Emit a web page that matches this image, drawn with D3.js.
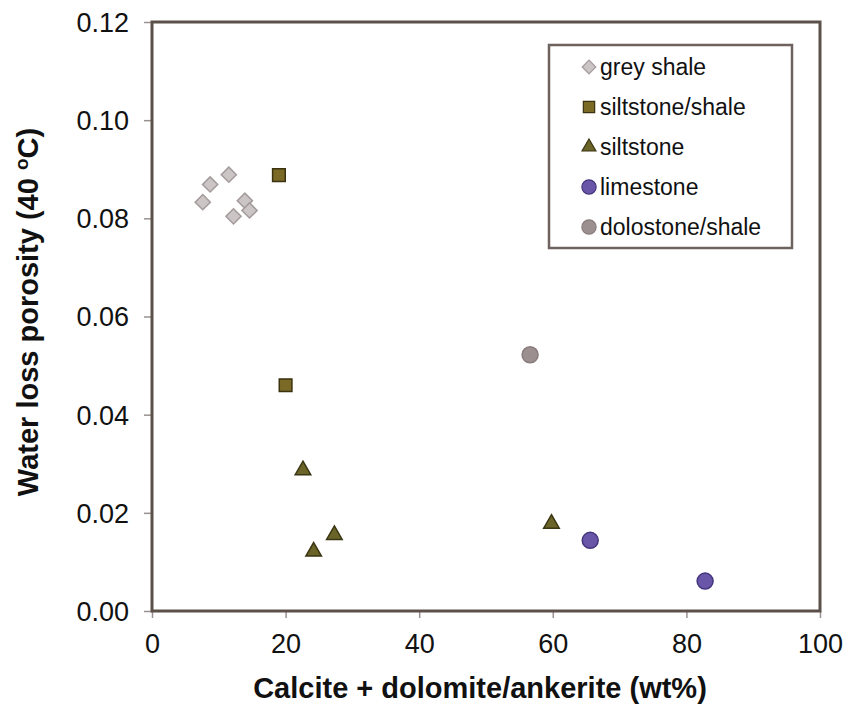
<!DOCTYPE html>
<html>
<head>
<meta charset="utf-8">
<script src="https://cdn.jsdelivr.net/npm/d3@7"></script>
<style>
  body { margin: 0; background: #fff; }
  text { font-family: "Liberation Sans", Arial, sans-serif; fill: #111; }
</style>
</head>
<body>
<script>
// data
const greyShaleX = [7.6, 8.7, 11.5, 12.2, 13.9, 14.6];
const greyShaleY = [0.0833, 0.0869, 0.0889, 0.0804, 0.0836, 0.0816];
const siltShaleX = [19.0, 20.0];
const siltShaleY = [0.0888, 0.0460];
const siltstoneX = [22.6, 24.2, 27.3, 59.8];
const siltstoneY = [0.0287, 0.0121, 0.0155, 0.0178];
const limestoneX = [65.6, 82.8];
const limestoneY = [0.0144, 0.0061];
const dolostoneX = [56.6];
const dolostoneY = [0.0522];

const xTicks = [0, 20, 40, 60, 80, 100];
const yTicks = [0, 0.02, 0.04, 0.06, 0.08, 0.10, 0.12];

const width = 848;
const height = 723;
const margin = { top: 22, right: 28, bottom: 112, left: 152 };

// rotated square reads as the diamond in the original
const series = [
  { name: 'grey shale', xs: greyShaleX, ys: greyShaleY, shape: d3.symbolSquare, size: 115, rot: 45, fill: '#ccc5c5', stroke: '#a39a9c' },
  { name: 'siltstone/shale', xs: siltShaleX, ys: siltShaleY, shape: d3.symbolSquare, size: 160, rot: 0, fill: '#7a6a26', stroke: '#3b3210' },
  { name: 'siltstone', xs: siltstoneX, ys: siltstoneY, shape: d3.symbolTriangle, size: 105, rot: 0, fill: '#6b6428', stroke: '#3a3512' },
  { name: 'limestone', xs: limestoneX, ys: limestoneY, shape: d3.symbolCircle, size: 200, rot: 0, fill: '#6a56a8', stroke: '#44367e' },
  { name: 'dolostone/shale', xs: dolostoneX, ys: dolostoneY, shape: d3.symbolCircle, size: 200, rot: 0, fill: '#9c8f8f', stroke: '#8a7c7c' }
];

const svg = d3.select('body')
  .append('svg')
  .attr('width', width)
  .attr('height', height);

const x = d3.scaleLinear()
  .domain([0, 100])
  .range([margin.left, width - margin.right]);

const y = d3.scaleLinear()
  .domain([0, 0.12])
  .range([height - margin.bottom, margin.top]);

// axes
const xAxis = svg.append('g')
  .attr('transform', `translate(0,${height - margin.bottom})`)
  .call(d3.axisBottom(x).tickValues(xTicks).tickSize(7).tickPadding(12).tickFormat(d3.format('d')));

const yAxis = svg.append('g')
  .attr('transform', `translate(${margin.left},0)`)
  .call(d3.axisLeft(y).tickValues(yTicks).tickSize(8).tickPadding(15).tickFormat(d3.format('.2f')));

[xAxis, yAxis].forEach(g => {
  g.select('.domain').remove();
  g.selectAll('.tick line').attr('stroke', '#9a9090').attr('stroke-width', 1.5);
  g.selectAll('.tick text')
    .style('font-family', '"Liberation Sans", Arial, sans-serif')
    .style('font-size', '27px')
    .attr('fill', '#111');
});
xAxis.selectAll('.tick text').attr('dy', '0.85em');
yAxis.selectAll('.tick text').attr('dy', '0.35em');

// plot frame
svg.append('rect')
  .attr('x', x(0))
  .attr('y', y(0.12))
  .attr('width', x(100) - x(0))
  .attr('height', y(0) - y(0.12))
  .attr('fill', 'none')
  .attr('stroke', '#5c504b')
  .attr('stroke-width', 3);

// points
series.forEach(s => {
  const pts = s.xs.map((v, i) => [v, s.ys[i]]);
  svg.append('g')
    .selectAll('path')
    .data(pts).enter()
    .append('path')
    .attr('d', d3.symbol().type(s.shape).size(s.size))
    .attr('transform', d => `translate(${x(d[0])},${y(d[1])}) rotate(${s.rot})`)
    .attr('fill', s.fill)
    .attr('stroke', s.stroke)
    .attr('stroke-width', 1.5);
});

// legend
const legend = svg.append('g').attr('transform', 'translate(549,45)');
legend.append('rect')
  .attr('width', 243)
  .attr('height', 203)
  .attr('fill', '#fff')
  .attr('stroke', '#6e625e')
  .attr('stroke-width', 2.5);

const row = legend.selectAll('g.item')
  .data(series).enter()
  .append('g')
  .attr('class', 'item')
  .attr('transform', (d, i) => `translate(40,${22 + i * 40})`);

row.append('path')
  .attr('d', d => d3.symbol().type(d.shape).size(d.size * 0.8)())
  .attr('transform', d => `rotate(${d.rot})`)
  .attr('fill', d => d.fill)
  .attr('stroke', d => d.stroke)
  .attr('stroke-width', 1.2);

row.append('text')
  .attr('x', 11)
  .attr('dy', '0.35em')
  .style('font-size', '23px')
  .text(d => d.name);

// axis titles
svg.append('text')
  .attr('x', 480)
  .attr('y', 698)
  .attr('text-anchor', 'middle')
  .style('font-size', '29px')
  .style('font-weight', 'bold')
  .text('Calcite + dolomite/ankerite (wt%)');

const yt = svg.append('text')
  .attr('transform', 'translate(38,312) rotate(-90)')
  .attr('text-anchor', 'middle')
  .style('font-size', '29px')
  .style('font-weight', 'bold');
yt.append('tspan').text('Water loss porosity (40 ');
yt.append('tspan').attr('dy', -10).style('font-size', '19px').text('o');
yt.append('tspan').attr('dy', 10).text('C)');
</script>
</body>
</html>
